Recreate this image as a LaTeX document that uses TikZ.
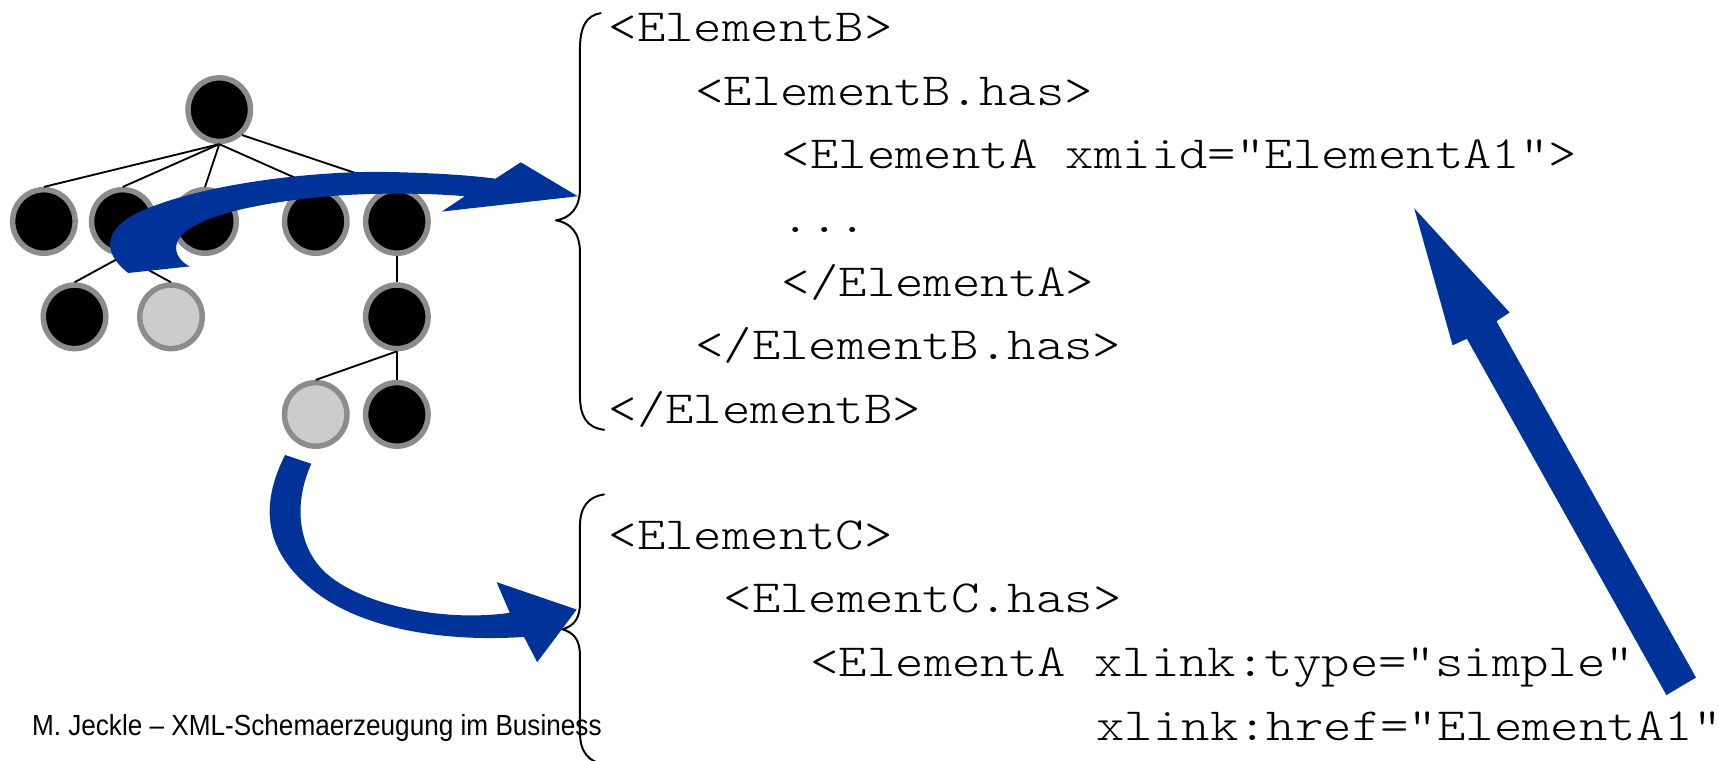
\documentclass[tikz,border=0pt]{standalone}
\usepackage{fontspec}
\setsansfont{Liberation Sans}
\newfontfamily\codefont{Latin Modern Mono Light}[FakeStretch=1.175]
\usetikzlibrary{shapes.geometric}
\definecolor{arrowblue}{RGB}{0,51,153}
\definecolor{ringgray}{RGB}{140,140,140}
\definecolor{palegray}{RGB}{204,204,204}

\begin{document}
\begin{tikzpicture}[x=1pt,y=-1pt,
  tnode/.style={ellipse, draw=ringgray, line width=5pt, fill=black,
    minimum width=57pt, minimum height=58pt, inner sep=0pt},
  lightnode/.style={tnode, fill=palegray},
  edge/.style={line width=1.7pt},
  code/.style={anchor=base west, inner sep=0pt,
    font=\codefont\fontsize{42}{50}\selectfont},
  brace/.style={line width=1.8pt, line join=round, line cap=round},
  blockarrow/.style={fill=arrowblue, draw=none},
  footer/.style={anchor=base west, inner sep=0pt,
    font=\sffamily\fontsize{26.5}{30}\selectfont}
]
\useasboundingbox (0,0) rectangle (1568,694);

% ---- tree ----
\node[tnode] (r) at (200,100) {};
\node[tnode] (a1) at (40,202) {};
\node[tnode] (a2) at (112,202) {};
\node[tnode] (a3) at (187,202) {};
\node[tnode] (a4) at (288,202) {};
\node[tnode] (a5) at (362,202) {};
\node[tnode] (b1) at (68,289) {};
\node[lightnode] (b2) at (156,289) {};
\node[tnode] (b3) at (362,289) {};
\node[lightnode] (c1) at (288,378) {};
\node[tnode] (c2) at (362,378) {};

\draw[edge] (r.south) -- (a1.north);
\draw[edge] (r.south) -- (a2.north);
\draw[edge] (r.south) -- (a3.north);
\draw[edge] (r.south) -- (a4.north);
\draw[edge] (r.-48) -- (a5.north);
\draw[edge] (a2.south) -- (b1.north);
\draw[edge] (a2.south) -- (b2.north);
\draw[edge] (a5.south) -- (b3.north);
\draw[edge] (b3.south) -- (c1.north);
\draw[edge] (b3.south) -- (c2.north);

% ---- code listing ----
\node[code] (l1) at (555,38)  {<ElementB>};
\node[code] (l2) at (634,96)  {<ElementB.has>};
\node[code] (l3) at (713,154) {<ElementA xmiid="ElementA1">};
\node[code] (l4) at (713,212) {...};
\node[code] (l5) at (713,270) {</ElementA>};
\node[code] (l6) at (634,328) {</ElementB.has>};
\node[code] (l7) at (555,386) {</ElementB>};

\node[code] (m1) at (555,501) {<ElementC>};
\node[code] (m2) at (660,559) {<ElementC.has>};
\node[code] (m3) at (739,617) {<ElementA xlink:type="simple"};
\node[code] (m4) at (1000,675) {xlink:href="ElementA1"};

% ---- footer ----
\node[footer] (foot) at (29,671) {\scalebox{0.9}[1]{M. Jeckle -- XML-Schemaerzeugung im Business}};

% ---- block arrows ----
% curved arrow from the tree into the first listing
\fill[blockarrow] (117,249) .. controls (92,230) and (92,205) .. (140,188)
  .. controls (200,165) and (300,155) .. (360,157)
  .. controls (400,158) and (430,160) .. (452,163)
  -- (475,148) -- (527,179) -- (403,193) -- (424,179)
  .. controls (390,176) and (330,175) .. (280,181)
  .. controls (220,188) and (175,200) .. (163,218)
  .. controls (157,228) and (163,238) .. (173,243) -- cycle;

% curved arrow from the tree into the second listing
\fill[blockarrow] (260,415) .. controls (240,455) and (235,500) .. (289,541)
  .. controls (330,572) and (400,586) .. (478,581)
  -- (490,604) -- (526,556) -- (453,531) -- (465,559)
  .. controls (400,568) and (330,550) .. (300,525)
  .. controls (275,505) and (265,465) .. (284,423) -- cycle;

% straight arrow from the link back to the id
\fill[blockarrow] (1520,634) -- (1338,309) -- (1325,315) -- (1290,190)
  -- (1377,285) -- (1365,293) -- (1547,618) -- cycle;

% ---- braces ----
\draw[brace] (548,12) .. controls (535,14) and (529,24) .. (529,45)
  -- (529,172) .. controls (529,190) and (520,199) .. (507,201)
  .. controls (520,203) and (529,212) .. (529,230)
  -- (529,360) .. controls (529,380) and (535,390) .. (551,392);
\draw[brace] (551,451) .. controls (537,453) and (529,462) .. (529,480)
  -- (529,550) .. controls (529,565) and (523,571) .. (513,574)
  .. controls (523,577) and (529,583) .. (529,598)
  -- (529,668) .. controls (529,686) and (537,695) .. (551,697);
\end{tikzpicture}
\end{document}
